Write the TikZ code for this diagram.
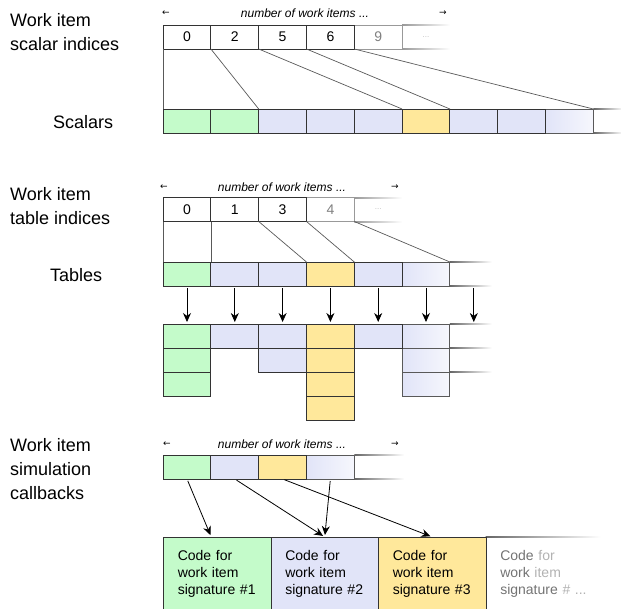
\documentclass[tikz,border=0pt]{standalone}
\usepackage{fontspec}
\setmainfont{Liberation Sans}
\newfontfamily\arrowfont{DejaVu Sans}
\usetikzlibrary{arrows.meta,positioning}

\definecolor{itemgreen}{HTML}{C4FBCA}
\definecolor{itemblue}{HTML}{E1E4F8}
\definecolor{itemyellow}{HTML}{FFE89B}

\begin{document}
\begin{tikzpicture}[x=1pt,y=-1pt,
    cell/.style={draw=black!80,line width=1pt,fill=white,minimum width=47.8pt,
      minimum height=24pt,inner sep=0pt,outer sep=0pt,font=\fontsize{14}{14}\selectfont},
    fadecell/.style={cell,draw=black!65,left color=itemblue,right color=itemblue!30},
    greycell/.style={cell,draw=black!40,text=black!50},
    fadeline/.style={left color=black!60,right color=white},
    link/.style={draw=black!65,line width=0.7pt},
    feed/.style={draw=black,line width=0.8pt,-{Stealth[length=9pt,width=8pt]},shorten <=2pt,shorten >=2pt},
    label/.style={anchor=north west,inner sep=0pt,align=left,font=\fontsize{18}{24}\selectfont},
    count/.style={font=\fontsize{12}{12}\selectfont\itshape},
    tick/.style={font=\fontsize{9}{9}\arrowfont},
    codebox/.style={draw=black!80,line width=1pt,anchor=north west,text width=79pt,
      inner xsep=14.25pt,inner ysep=13pt,text depth=40pt,align=left,
      font=\fontsize{14}{17}\selectfont}]
  \clip (0,0) rectangle (621,608);

  % scalar indices and scalars
  \node[label] (lsi) at (10,13) {Work item\\scalar indices};
  \node[label] (lsc) at (53,115) {Scalars};
  \node[tick] (hl1) at (166,13) {←};
  \node[count] (hd1) at (305,13) {number of work items ...};
  \node[tick] (hr1) at (443,13) {→};
  \node[greycell] (si4) at (187+47.8*4,37) {9};
  \foreach \n [count=\i from 0] in {0,2,5,6}
    \node[cell] (si\i) at (187+47.8*\i,37) {\n};
  \node[font=\fontsize{8}{8}\selectfont,text=black!25] (si5) at (187+47.8*5,37) {...};
  \shade[fadeline,left color=black!40] ([yshift=0.5pt]si4.north east) rectangle ++(48,1);
  \shade[fadeline,left color=black!40] ([yshift=0.5pt]si4.south east) rectangle ++(48,1);

  \node[fadecell] (sc8) at (187+47.8*8,121) {};
  \foreach \c [count=\i from 0] in {itemgreen,itemgreen,itemblue,itemblue,itemblue,itemyellow,itemblue,itemblue}
    \node[cell,fill=\c] (sc\i) at (187+47.8*\i,121) {};
  \shade[fadeline] ([yshift=0.5pt]sc8.north east) rectangle ++(30,1);
  \shade[fadeline] ([yshift=0.5pt]sc8.south east) rectangle ++(30,1);

  \draw[link] (si0.south west) -- (sc0.north west);
  \draw[link] (si1.south west) -- (sc2.north west);
  \draw[link] (si2.south west) -- (sc5.north west);
  \draw[link] (si3.south west) -- (sc6.north west);
  \draw[link] (si4.south west) -- (sc8.north east);

  % table indices and tables
  \node[label] (lti) at (10,187) {Work item\\table indices};
  \node[label] (ltb) at (50,268) {Tables};
  \node[tick] (hl2) at (164,187) {←};
  \node[count] (hd2) at (282,187) {number of work items ...};
  \node[tick] (hr2) at (395,187) {→};
  \node[greycell] (ti3) at (187+47.8*3,209.5) {4};
  \foreach \n [count=\i from 0] in {0,1,3}
    \node[cell] (ti\i) at (187+47.8*\i,209.5) {\n};
  \node[font=\fontsize{8}{8}\selectfont,text=black!25] (ti4) at (187+47.8*4,209.5) {...};
  \shade[fadeline,left color=black!40] ([yshift=0.5pt]ti3.north east) rectangle ++(48,1);
  \shade[fadeline,left color=black!40] ([yshift=0.5pt]ti3.south east) rectangle ++(48,1);

  \node[fadecell] (tb5) at (187+47.8*5,274) {};
  \foreach \c [count=\i from 0] in {itemgreen,itemblue,itemblue,itemyellow,itemblue}
    \node[cell,fill=\c] (tb\i) at (187+47.8*\i,274) {};
  \shade[fadeline] ([yshift=0.5pt]tb5.north east) rectangle ++(42,1);
  \shade[fadeline] ([yshift=0.5pt]tb5.south east) rectangle ++(42,1);

  \draw[link] (ti0.south west) -- (tb0.north west);
  \draw[link] (ti1.south west) -- (tb1.north west);
  \draw[link] (ti2.south west) -- (tb3.north west);
  \draw[link] (ti3.south west) -- (tb4.north west);
  \draw[link] (ti3.south east) -- (tb5.north east);

  % table columns
  \foreach \r in {1,2,3}
    \node[fadecell] (tc5\r) at (187+47.8*5,312+24*\r) {};
  \foreach \c/\n/\col in {0/3/itemgreen,1/1/itemblue,2/2/itemblue,3/4/itemyellow,4/1/itemblue}
    \foreach \r in {1,...,\n}
      \node[cell,fill=\col] (tc\c\r) at (187+47.8*\c,312+24*\r) {};
  \foreach \r in {1,2,3}
    \shade[fadeline] ([yshift=0.5pt]tc5\r.north east) rectangle ++(42,1);

  \coordinate (tb6) at (187+47.8*6,286);
  \coordinate (tc61) at (187+47.8*6,324);
  \foreach \i in {0,...,6}
    \draw[feed] (tb\i.south) -- (tc\i1.north);

  % simulation callbacks
  \node[label] (lcb) at (10,438) {Work item\\simulation\\callbacks};
  \node[tick] (hl3) at (167,444) {←};
  \node[count] (hd3) at (282,444) {number of work items ...};
  \node[tick] (hr3) at (395,444) {→};
  \node[fadecell] (cr3) at (187+47.8*3,467) {};
  \foreach \c [count=\i from 0] in {itemgreen,itemblue,itemyellow}
    \node[cell,fill=\c] (cr\i) at (187+47.8*\i,467) {};
  \shade[fadeline] ([yshift=0.5pt]cr3.north east) rectangle ++(50,1);
  \shade[fadeline] ([yshift=0.5pt]cr3.south east) rectangle ++(50,1);

  \node[codebox,draw=none,text width=100pt,text=black!55] (code4) at (485.5,537)
    {Code {\color{black!30}for}\\work {\color{black!30}item}\\signature {\color{black!30}\#~...}};
  \shade[fadeline] ([yshift=0.5pt]code4.north west) rectangle ++(115,1);
  \node[codebox,fill=itemgreen] (code1) at (163,537) {Code for\\work item\\signature \#1};
  \node[codebox,fill=itemblue] (code2) at (270.5,537) {Code for\\work item\\signature \#2};
  \node[codebox,fill=itemyellow] (code3) at (378,537) {Code for\\work item\\signature \#3};

  \draw[feed] (cr0.south) -- ([xshift=-6pt]code1.north);
  \draw[feed] (cr1.south) -- (code2.north);
  \draw[feed] (cr2.south) -- (code3.north);
  \draw[feed] (cr3.south) -- (code2.north);
\end{tikzpicture}
\end{document}
